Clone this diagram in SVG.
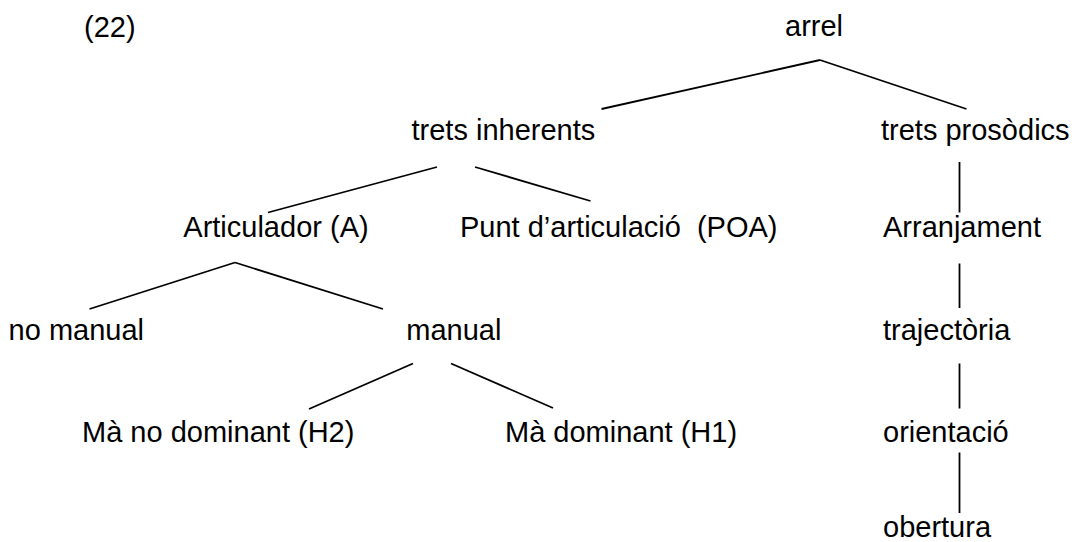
<svg xmlns="http://www.w3.org/2000/svg" width="1075" height="542" viewBox="0 0 1075 542">
<style>
text{font-family:"Liberation Sans",Arial,sans-serif;font-size:29px;fill:#000;white-space:pre}
.c line{stroke:#000;stroke-width:1.8;stroke-linecap:butt}
</style>
<rect width="1075" height="542" fill="#fff"/>
<g class="c" id="connectors">
<line x1="820" y1="60" x2="601.5" y2="109"/>
<line x1="820" y1="60" x2="966.5" y2="109"/>
<line x1="437" y1="167" x2="268" y2="212.5"/>
<line x1="475" y1="167" x2="590.5" y2="201"/>
<line x1="235" y1="262.5" x2="89.5" y2="309"/>
<line x1="235" y1="262.5" x2="383" y2="309"/>
<line x1="413" y1="363.5" x2="309" y2="409"/>
<line x1="451" y1="363.5" x2="553" y2="408"/>
<line x1="959.5" y1="162" x2="959.5" y2="212.5"/>
<line x1="959.5" y1="263.5" x2="959.5" y2="308"/>
<line x1="959.5" y1="363.5" x2="959.5" y2="408.5"/>
<line x1="959.5" y1="452.5" x2="959.5" y2="513"/>
</g>
<g id="label22"><text x="84" y="36.5">(22)</text></g>
<g id="arrel"><text x="785" y="36">arrel</text></g>
<g id="trets-inherents"><text x="411.5" y="140">trets inherents</text></g>
<g id="trets-prosodics"><text x="881" y="140">trets prosòdics</text></g>
<g id="articulador"><text x="183.3" y="236.7">Articulador (A)</text></g>
<g id="punt"><text x="460" y="236.5">Punt d’articulació  (POA)</text></g>
<g id="arranjament"><text x="883" y="236.5">Arranjament</text></g>
<g id="no-manual"><text x="8.6" y="340">no manual</text></g>
<g id="manual"><text x="406.3" y="340">manual</text></g>
<g id="trajectoria"><text x="883" y="340">trajectòria</text></g>
<g id="ma-no-dominant"><text x="82" y="442">Mà no dominant (H2)</text></g>
<g id="ma-dominant"><text x="505" y="442">Mà dominant (H1)</text></g>
<g id="orientacio"><text x="883" y="442">orientació</text></g>
<g id="obertura"><text x="883" y="536.5">obertura</text></g>
</svg>
